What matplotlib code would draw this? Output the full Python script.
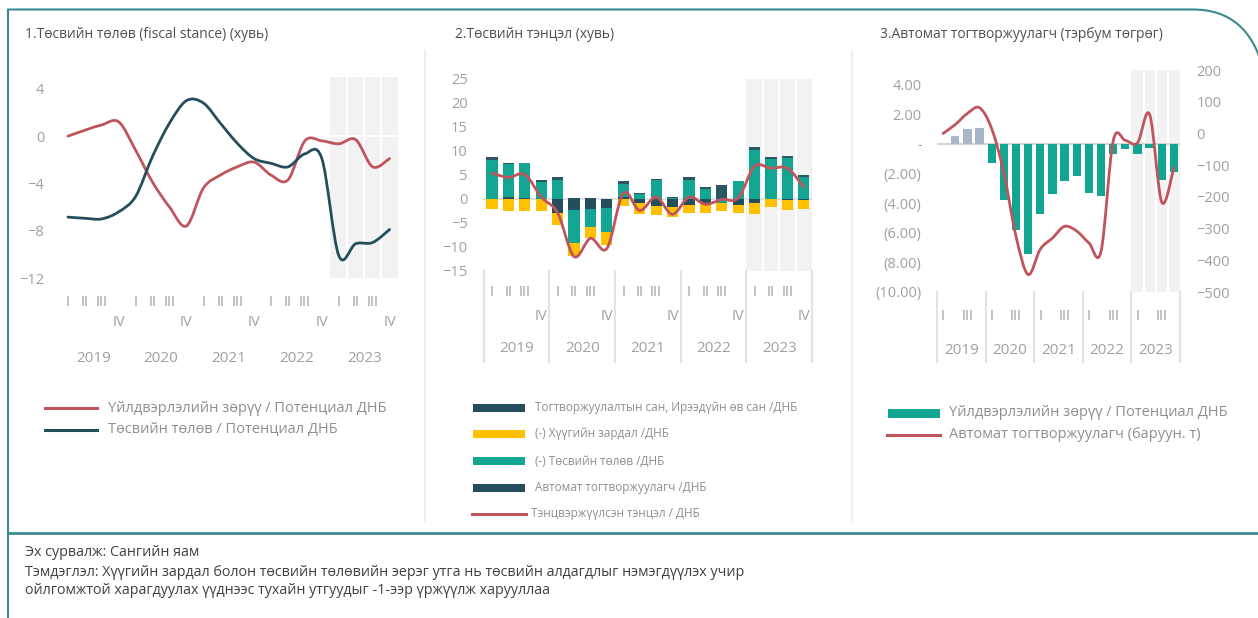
import numpy as np
import matplotlib.pyplot as plt
from matplotlib.path import Path
from matplotlib.patches import PathPatch, Rectangle
from matplotlib.lines import Line2D
from matplotlib.transforms import blended_transform_factory

plt.rcParams['font.family'] = ['Open Sans', 'Noto Sans', 'DejaVu Sans']

W, H = 1258, 618

# --- data -------------------------------------------------------------
quarters = ['I', 'II', 'III', 'IV'] * 5
years = ['2019', '2020', '2021', '2022', '2023']

# 1. fiscal stance (%)
output_gap = [0.0, 0.5, 0.95, 1.2, -1.2, -3.9, -6.0, -7.6, -4.4, -3.3,
              -2.6, -2.2, -3.3, -3.7, -0.4, -0.4, -0.65, -0.3, -2.6, -1.9]
fiscal_stance = [-6.85, -6.95, -7.0, -6.4, -5.1, -1.7, 1.1, 3.0, 2.8, 1.1,
                 -0.6, -1.9, -2.3, -2.6, -1.5, -1.9, -10.1, -9.1, -9.0, -7.9]

# 2. budget balance (%)
auto_stab = [0.0, 0.5, 0.3, 0.0, -3.0, -2.3, -2.1, -1.8, 0.4, -0.9,
             -1.4, -1.6, -1.2, -0.8, 0.0, -1.2, -0.8, 0.0, -0.3, -0.2]
stance_gdp = [8.1, 6.7, 7.3, 3.6, 3.9, -6.8, -3.8, -5.1, 2.8, 1.0,
              3.9, 0.3, 3.9, 2.1, -0.8, 3.7, 10.2, 8.4, 8.6, 4.6]
interest_gdp = [-2.1, -2.5, -2.4, -2.4, -2.5, -2.7, -2.2, -2.7, -1.5, -2.3,
                -2.0, -2.1, -1.8, -2.2, -1.7, -1.7, -2.4, -1.7, -2.0, -1.9]
fund_gdp = [0.7, 0.3, 0.0, 0.3, 0.6, 0.2, 0.2, 0.0, 0.5, 0.3,
            0.2, 0.2, 0.7, 0.3, 2.9, 0.0, 0.6, 0.4, 0.3, 0.3]
struct_balance = [5.4, 4.5, 5.1, 0.4, -2.9, -12.0, -8.2, -10.3, 1.2, -2.4,
                  0.4, -3.2, 0.4, -1.1, -0.1, 0.2, 6.8, 6.4, 6.4, 2.5]

# 3. automatic stabilizer (bn MNT)
gap_bars = [0.0, 0.56, 1.03, 1.1, -1.28, -3.8, -5.84, -7.46, -4.76, -3.37,
            -2.52, -2.18, -3.3, -3.48, -0.65, -0.34, -0.65, -0.3, -2.45, -1.9]
auto_bn = [0, 28, 63, 81, 15, -124, -324, -445, -365, -330,
           -293, -308, -345, -372, -24, -22, -30, 60, -217, -108]

RED = '#C0545D'
NAVY = '#254E5D'
TEAL = '#12A592'
YELLOW = '#FFC000'
GREYBAR = '#A9B5C9'
SHADE = '#F2F2F2'
TICK = '#A0A0A0'


def P(x, y):
    return x / W, 1 - y / H


def smooth_line(ax, x, y, color, lw):
    x = np.asarray(x, float)
    y = np.asarray(y, float)
    n = len(x)
    verts = [(x[0], y[0])]
    codes = [Path.MOVETO]
    for i in range(n - 1):
        xa, ya = (x[i - 1], y[i - 1]) if i > 0 else (x[i], y[i])
        xb, yb = (x[i + 2], y[i + 2]) if i + 2 < n else (x[i + 1], y[i + 1])
        c1 = (x[i] + (x[i + 1] - xa) / 6, y[i] + (y[i + 1] - ya) / 6)
        c2 = (x[i + 1] - (xb - x[i]) / 6, y[i + 1] - (yb - y[i]) / 6)
        verts += [c1, c2, (x[i + 1], y[i + 1])]
        codes += [Path.CURVE4] * 3
    ax.add_patch(PathPatch(Path(verts, codes), fill=False, edgecolor=color,
                           lw=lw, capstyle='round', joinstyle='round', zorder=5))


def box_rect(left, top, right, bottom):
    l, t = P(left, top)
    r, b = P(right, bottom)
    return [l, b, r - l, t - b]


def clean(ax):
    for s in ax.spines.values():
        s.set_visible(False)
    ax.tick_params(length=0, labelsize=10.5, colors=TICK)


def shade(ax, lo, hi):
    ax.axvspan(15.5, 19.5, color=SHADE, zorder=0, lw=0)
    for xv in (16.5, 17.5, 18.5):
        ax.plot([xv, xv], [lo, hi], color='white', lw=1.5, zorder=0.5)


def cat_labels(ax, fig, y_q, y_iv, y_year, only_odd=False, seps=None):
    tr = blended_transform_factory(ax.transData, fig.transFigure)
    for i, q in enumerate(quarters):
        if only_odd and q not in ('I', 'III'):
            continue
        yy = y_iv if q == 'IV' else y_q
        ax.text(i, 1 - yy / H, q, transform=tr, ha='center', va='center',
                fontsize=10.5, color=TICK, clip_on=False)
    for k, yr in enumerate(years):
        ax.text(4 * k + 1.5, 1 - y_year / H, yr, transform=tr, ha='center',
                va='center', fontsize=11, color=TICK, clip_on=False)
    if seps:
        for k in range(6):
            ax.add_line(Line2D([4 * k - 0.5] * 2, [1 - seps[0] / H, 1 - seps[1] / H],
                               transform=tr, color='#E3E3E3', lw=1.5, clip_on=False))


fig = plt.figure(figsize=(W / 100, H / 100), dpi=100)
x = np.arange(20)

# --- panel 1 ----------------------------------------------------------
ax1 = fig.add_axes(box_rect(59.5, 77, 398, 278))
clean(ax1)
ax1.set_xlim(-0.5, 19.5)
ax1.set_ylim(-12, 5)
shade(ax1, -12, 5)
ax1.axhline(0, color='white', lw=1.5, zorder=0.6)
smooth_line(ax1, x, output_gap, RED, 2.0)
smooth_line(ax1, x, fiscal_stance, NAVY, 2.0)
ax1.set_yticks([-12, -8, -4, 0, 4])
ax1.set_xticks([])
ax1.tick_params(axis='y', pad=11)
cat_labels(ax1, fig, 302, 323, 358)

# --- panel 2 ----------------------------------------------------------
ax2 = fig.add_axes(box_rect(483, 79, 812, 271))
clean(ax2)
ax2.set_xlim(-0.55, 19.5)
ax2.set_ylim(-15, 25)
shade(ax2, -15, 25)
ax2.axhline(0, color='#DDDDDD', lw=1.2, zorder=0.7)
series = [(auto_stab, NAVY), (stance_gdp, TEAL), (interest_gdp, YELLOW), (fund_gdp, '#2C5566')]
pos = np.zeros(20)
neg = np.zeros(20)
for vals, col in series:
    v = np.asarray(vals, float)
    b = np.where(v >= 0, pos, neg)
    ax2.bar(x, v, 0.68, bottom=b, color=col, zorder=2, lw=0)
    pos += np.where(v >= 0, v, 0)
    neg += np.where(v < 0, v, 0)
smooth_line(ax2, x, struct_balance, RED, 2.0)
ax2.set_yticks(np.arange(-15, 26, 5))
ax2.set_xticks([])
ax2.tick_params(axis='y', pad=11)
cat_labels(ax2, fig, 293, 316, 349, seps=(271, 362))

# --- panel 3 ----------------------------------------------------------
ax3 = fig.add_axes(box_rect(937, 70, 1180, 292))
clean(ax3)
ax3.set_xlim(-0.5, 19.5)
ax3.set_ylim(-10, 5)
shade(ax3, -10, 5)
ax3.axhline(0, color='#D5D5D5', lw=1.5, zorder=0.7)
gb = np.asarray(gap_bars)
ax3.bar(x, gb, 0.68, color=np.where(gb > 0, GREYBAR, TEAL), zorder=2, lw=0)
ax3.set_yticks([-10, -8, -6, -4, -2, 0, 2, 4])
ax3.set_yticklabels(['(10.00)', '(8.00)', '(6.00)', '(4.00)', '(2.00)', '-', '2.00', '4.00'])
ax3.set_xticks([])
ax3.tick_params(axis='y', pad=11)
ax3r = ax3.twinx()
clean(ax3r)
ax3r.set_ylim(-500, 200)
ax3r.set_yticks(np.arange(-500, 201, 100))
ax3r.tick_params(axis='y', pad=12)
smooth_line(ax3r, x, auto_bn, RED, 2.0)
cat_labels(ax3, fig, 316, 316, 351, only_odd=True, seps=(292, 362))

# --- titles -----------------------------------------------------------
TITLE = '#505050'
fig.text(*P(25, 35), '1.Төсвийн төлөв (fiscal stance) (хувь)', fontsize=10, color=TITLE, va='center')
fig.text(*P(455, 35), '2.Төсвийн тэнцэл (хувь)', fontsize=10, color=TITLE, va='center')
fig.text(*P(880, 35), '3.Автомат тогтворжуулагч (тэрбум төгрөг)', fontsize=10, color=TITLE, va='center')

# --- legends ----------------------------------------------------------
LEG = '#8F8F8F'


def leg_line(x0, x1, y, col, label, tx, fs):
    fig.add_artist(Line2D([x0 / W, x1 / W], [1 - y / H] * 2, color=col, lw=2.2,
                          transform=fig.transFigure))
    fig.text(tx / W, 1 - y / H, label, fontsize=fs, color=LEG, va='center')


def leg_box(x0, x1, y, h, col, label, tx, fs):
    fig.add_artist(Rectangle((x0 / W, 1 - (y + h / 2) / H), (x1 - x0) / W, h / H,
                             color=col, transform=fig.transFigure, lw=0))
    fig.text(tx / W, 1 - y / H, label, fontsize=fs, color=LEG, va='center')


leg_line(45, 97, 408, RED, 'Үйлдвэрлэлийн зөрүү / Потенциал ДНБ', 108, 10.5)
leg_line(45, 97, 430, NAVY, 'Төсвийн төлөв / Потенциал ДНБ', 108, 10.5)

leg_box(473, 525, 407.5, 8, NAVY, 'Тогтворжуулалтын сан, Ирээдүйн өв сан /ДНБ', 535, 8.5)
leg_box(473, 525, 434, 8, YELLOW, '(-) Хүүгийн зардал /ДНБ', 535, 8.5)
leg_box(473, 525, 461, 8, TEAL, '(-) Төсвийн төлөв /ДНБ', 535, 8.5)
leg_box(473, 525, 487.5, 8, NAVY, 'Автомат тогтворжуулагч /ДНБ', 535, 8.5)
leg_line(472, 526, 513.5, RED, 'Тэнцвэржүүлсэн тэнцэл / ДНБ', 531, 8.5)

leg_box(888, 940, 413, 9, TEAL, 'Үйлдвэрлэлийн зөрүү / Потенциал ДНБ', 949, 10.5)
leg_line(887, 940, 435, RED, 'Автомат тогтворжуулагч (баруун. т)', 949, 10.5)

# --- frame ------------------------------------------------------------
BORDER = '#3A8B8E'
fig.add_artist(Line2D([7.5 / W] * 2, [1 - 9.5 / H, 0], color=BORDER, lw=1.5, transform=fig.transFigure))
frame = Path([P(7.5, 9.5), P(1193, 9.5), P(1230, 9.5), P(1252, 30), P(1262, 65)],
             [Path.MOVETO, Path.LINETO, Path.CURVE4, Path.CURVE4, Path.CURVE4])
fig.add_artist(PathPatch(frame, fill=False, edgecolor=BORDER, lw=1.5, transform=fig.transFigure))
fig.add_artist(Line2D([7.5 / W, 1], [1 - 533 / H] * 2, color=BORDER, lw=2, transform=fig.transFigure))
for sx in (425, 852):
    fig.add_artist(Line2D([sx / W] * 2, [1 - 50 / H, 1 - 522 / H], color='#EBEBEB', lw=1.2,
                          transform=fig.transFigure))

# --- footer -----------------------------------------------------------
FOOT = '#404040'
fig.text(*P(25, 553), 'Эх сурвалж: Сангийн яам', fontsize=10.3, color=FOOT, va='center')
fig.text(*P(25, 572), 'Тэмдэглэл: Хүүгийн зардал болон төсвийн төлөвийн эерэг утга нь '
         'төсвийн алдагдлыг нэмэгдүүлэх учир', fontsize=10.3, color=FOOT, va='center')
fig.text(*P(25, 591), 'ойлгомжтой харагдуулах үүднээс тухайн утгуудыг -1-ээр үржүүлж харууллаа',
         fontsize=10.3, color=FOOT, va='center')

fig.savefig('out.png', dpi=100)
